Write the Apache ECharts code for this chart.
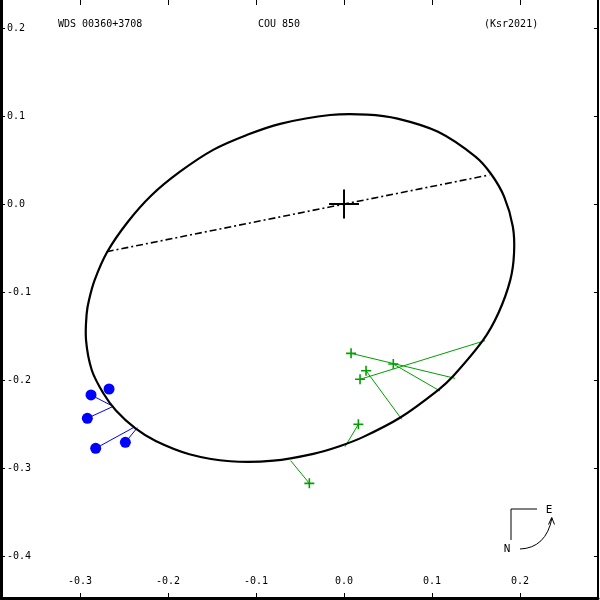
<!DOCTYPE html>
<html>
<head>
<meta charset="utf-8">
<script src="https://cdn.jsdelivr.net/npm/echarts@6/dist/echarts.min.js"></script>
<style>html,body{margin:0;padding:0;background:#fff}#c{width:600px;height:600px}</style>
</head>
<body>
<div id="c"></div>
<script>
// Tick labels
const xTicks = [-0.3, -0.2, -0.1, 0.0, 0.1, 0.2];
const yTicks = [0.2, 0.1, 0.0, -0.1, -0.2, -0.3, -0.4];

// Header texts
const titleLeft = 'WDS 00360+3708';
const titleMid = 'COU 850';
const titleRight = '(Ksr2021)';

// Apparent orbit, closed loop
const orbitPoints = [
  [-0.0159, 0.1011], [0.0260, 0.1016], [0.0608, 0.0970], [0.1068, 0.0820],
  [0.1493, 0.0538], [0.1673, 0.0338], [0.1818, 0.0086], [0.1918, -0.0255],
  [0.1932, -0.0560], [0.1889, -0.0865], [0.1756, -0.1235], [0.1580, -0.1547],
  [0.1233, -0.1964], [0.1073, -0.2111], [0.0640, -0.2426], [0.0214, -0.2649],
  [-0.0051, -0.2752], [-0.0349, -0.2839], [-0.0802, -0.2917], [-0.1293, -0.2923],
  [-0.1757, -0.2843], [-0.2140, -0.2693], [-0.2374, -0.2547], [-0.2592, -0.2347],
  [-0.2735, -0.2151], [-0.2867, -0.1886], [-0.2932, -0.1545], [-0.2924, -0.1242],
  [-0.2898, -0.1091], [-0.2834, -0.0864], [-0.2690, -0.0543], [-0.2460, -0.0207],
  [-0.2190, 0.0097], [-0.1864, 0.0367], [-0.1482, 0.0618], [-0.1100, 0.0786],
  [-0.0726, 0.0911]
];

// Line of nodes
const nodeLine = [[-0.2697, -0.0542], [0.1651, 0.0330]];

// Primary star cross
const crossH = [[-0.017, 0], [0.017, 0]];
const crossV = [[0, -0.0165], [0, 0.0165]];

// Visual observations (green plus) and their orbit positions
const greenObs = [[0.0080, -0.1697], [0.0560, -0.1818], [0.0250, -0.1894], [0.0182, -0.1992], [0.0163, -0.2503], [-0.0394, -0.3174]];
const greenFit = [[0.1261, -0.1981], [0.1091, -0.2125], [0.0656, -0.2447], [0.1602, -0.1553], [0.0011, -0.2758], [-0.0606, -0.2917]];

// Interferometric observations (blue dots) and their orbit positions
const blueObs = [[-0.2875, -0.2170], [-0.2670, -0.2102], [-0.2917, -0.2435], [-0.2822, -0.2776], [-0.2485, -0.2708]];
const blueFit = [[-0.2622, -0.2301], [-0.2716, -0.2114], [-0.2622, -0.2299], [-0.2375, -0.2531], [-0.2349, -0.2542]];

const FONT = 'DejaVu Sans Mono';
const GREEN = '#00a000';
const BLUE = '#0000ff';

const series = [];
// Orbit: closed smooth loop through the read points, positioned via the axes' scales
series.push({
  type: 'custom', data: orbitPoints, encode: { x: 0, y: 1 }, silent: true, z: 3,
  renderItem: function (params, api) {
    if (params.dataIndex !== 0) return null;
    const pts = orbitPoints.map(p => api.coord(p));
    return {
      type: 'polygon',
      shape: { points: pts, smooth: 0.35 },
      style: { fill: 'none', stroke: '#000', lineWidth: 2.2 }
    };
  }
});
series.push({
  type: 'line', data: nodeLine, symbol: 'none', silent: true,
  lineStyle: { color: '#000', width: 1.6, type: [7, 3, 2, 3] }, z: 3
});
[crossH, crossV].forEach(d => series.push({
  type: 'line', data: d, symbol: 'none', silent: true,
  lineStyle: { color: '#000', width: 2 }, z: 4
}));
greenObs.forEach((p, i) => series.push({
  type: 'line', data: [p, greenFit[i]], symbol: 'none', silent: true,
  lineStyle: { color: GREEN, width: 1 }, z: 2
}));
blueObs.forEach((p, i) => series.push({
  type: 'line', data: [p, blueFit[i]], symbol: 'none', silent: true,
  lineStyle: { color: BLUE, width: 1 }, z: 2
}));
series.push({
  type: 'scatter', data: greenObs, symbolSize: 10, silent: true,
  symbol: 'path://M4.2,0H5.8V4.2H10V5.8H5.8V10H4.2V5.8H0V4.2H4.2Z',
  itemStyle: { color: GREEN, opacity: 1 }, z: 5
});
series.push({
  type: 'scatter', data: blueObs, symbolSize: 11, symbol: 'circle', silent: true,
  itemStyle: { color: BLUE, opacity: 1 }, z: 5
});

const lbl = v => v.toFixed(1);

const option = {
  animation: false,
  backgroundColor: '#fff',
  grid: { left: 1, right: 2, top: 0, bottom: 2 },
  xAxis: [
    {
      type: 'value', position: 'bottom', min: -0.3898, max: 0.2886,
      axisLine: { show: true, onZero: false, lineStyle: { color: '#000', width: 3 } },
      axisTick: { show: true, inside: true, length: 5, customValues: xTicks, lineStyle: { color: '#000', width: 1 } },
      axisLabel: { show: true, inside: true, margin: 12, customValues: xTicks, formatter: lbl,
        color: '#000', fontFamily: FONT, fontSize: 10 },
      splitLine: { show: false }
    },
    {
      type: 'value', position: 'top', min: -0.3898, max: 0.2886,
      axisLine: { show: false, onZero: false },
      axisTick: { show: true, inside: true, length: 5, customValues: xTicks, lineStyle: { color: '#000', width: 1 } },
      axisLabel: { show: false },
      splitLine: { show: false }
    }
  ],
  yAxis: [
    {
      type: 'value', position: 'left', min: -0.4477, max: 0.2318,
      axisLine: { show: true, onZero: false, lineStyle: { color: '#000', width: 3 } },
      axisTick: { show: true, inside: true, length: 4, customValues: yTicks, lineStyle: { color: '#000', width: 1 } },
      axisLabel: { show: true, inside: true, margin: 6, customValues: yTicks, formatter: lbl,
        color: '#000', fontFamily: FONT, fontSize: 10 },
      splitLine: { show: false }
    },
    {
      type: 'value', position: 'right', min: -0.4477, max: 0.2318,
      axisLine: { show: true, onZero: false, lineStyle: { color: '#000', width: 2 } },
      axisTick: { show: true, inside: true, length: 4, customValues: yTicks, lineStyle: { color: '#000', width: 1 } },
      axisLabel: { show: false },
      splitLine: { show: false }
    }
  ],
  graphic: [
    { type: 'text', left: 58, top: 19, style: { text: titleLeft, fill: '#000', font: '10px "DejaVu Sans Mono"' } },
    { type: 'text', left: 258, top: 19, style: { text: titleMid, fill: '#000', font: '10px "DejaVu Sans Mono"' } },
    { type: 'text', left: 484, top: 19, style: { text: titleRight, fill: '#000', font: '10px "DejaVu Sans Mono"' } },
    // compass
    { type: 'polyline', shape: { points: [[511, 540], [511, 509], [537, 509]] }, style: { stroke: '#000', lineWidth: 1, fill: null } },
    { type: 'text', x: 549, y: 510, style: { text: 'E', fill: '#000', font: '11px "DejaVu Sans Mono"', align: 'center', verticalAlign: 'middle' } },
    { type: 'text', x: 507, y: 549, style: { text: 'N', fill: '#000', font: '11px "DejaVu Sans Mono"', align: 'center', verticalAlign: 'middle' } },
    { type: 'bezierCurve', shape: { x1: 520, y1: 549, cpx1: 546, cpy1: 548, x2: 552, y2: 518 }, style: { stroke: '#000', lineWidth: 1, fill: null } },
    { type: 'polyline', shape: { points: [[548.5, 524.5], [551.7, 517.5], [554.5, 524.5]] }, style: { stroke: '#000', lineWidth: 1, fill: null } }
  ],
  series: series
};

const chart = echarts.init(document.getElementById('c'), null, { renderer: 'canvas' });
chart.setOption(option);
</script>
</body>
</html>
